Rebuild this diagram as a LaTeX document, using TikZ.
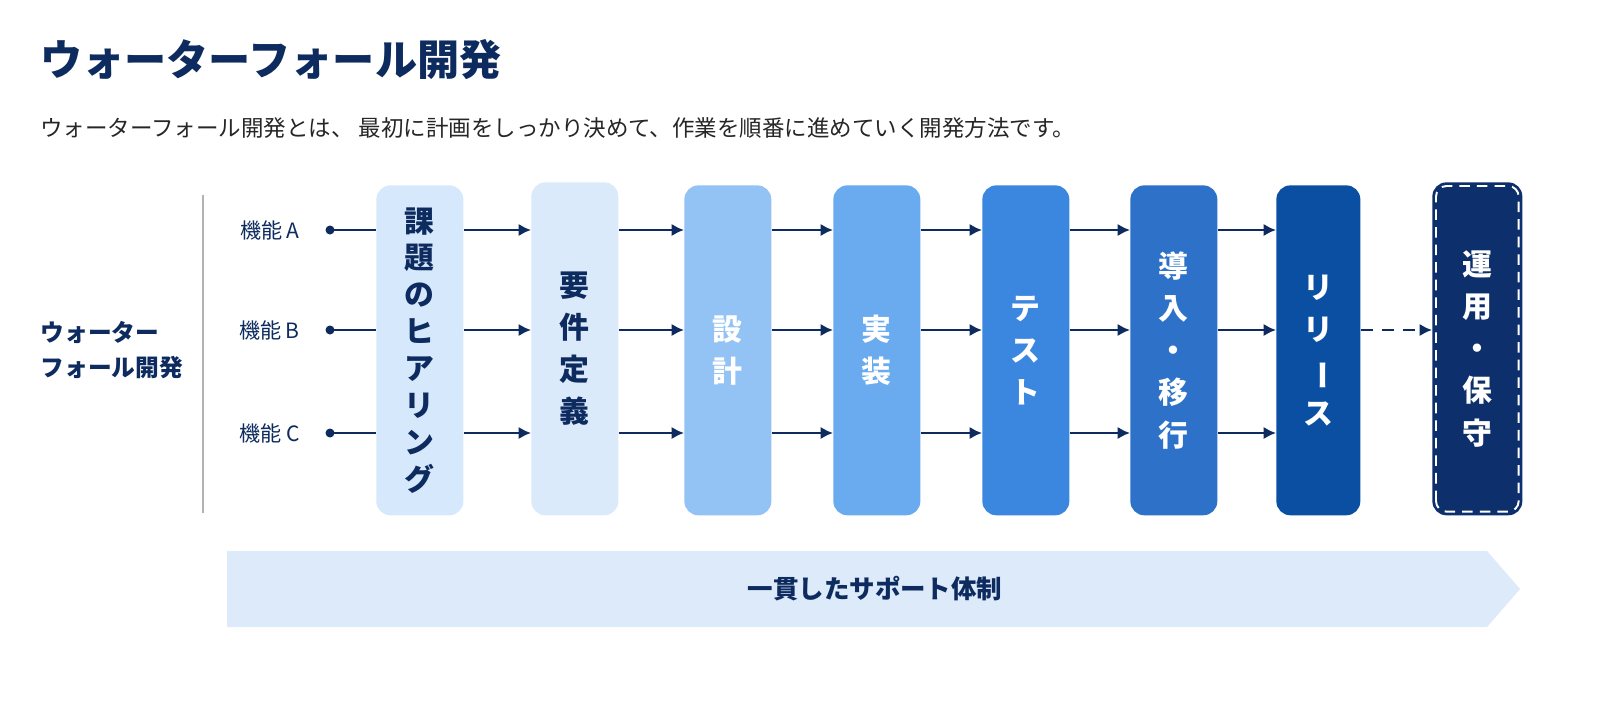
\documentclass[tikz,border=0pt]{standalone}
\usepackage{fontspec}
\setmainfont{Noto Sans CJK JP}
\usetikzlibrary{positioning, arrows.meta, shapes.arrows, calc}
\definecolor{navy}{HTML}{0D2B5E}
\definecolor{stepA}{HTML}{D6E8FB}
\definecolor{stepB}{HTML}{DBEAFB}
\definecolor{stepC}{HTML}{93C2F4}
\definecolor{stepD}{HTML}{6AAAEE}
\definecolor{stepE}{HTML}{3B87DF}
\definecolor{stepF}{HTML}{2D72C8}
\definecolor{stepG}{HTML}{0B4FA3}
\definecolor{stepH}{HTML}{0D2F6B}
\definecolor{band}{HTML}{DCEAFA}
\newcommand{\VBar}{\rotatebox[origin=c]{-90}{ー}}
\tikzset{
    phase/.style={rounded corners=8pt, minimum width=1.74cm, minimum height=6.6cm,
      anchor=north west, font=\fontsize{17}{24}\selectfont\bfseries, align=center, inner sep=0pt},
    flow/.style={navy, line width=1.3pt, -{Latex[length=7pt, width=7pt]}},
    feat/.style={font=\fontsize{12}{14}\selectfont, text=navy},
}
\begin{document}
\begin{tikzpicture}[x=0.02cm, y=-0.02cm]
    \useasboundingbox[fill=white] (0,0) rectangle (1600,711);

    \node[anchor=west, font=\fontsize{24}{28}\selectfont\bfseries, text=navy] (title) at (34,60) {ウォーターフォール開発};
    \node[anchor=west, font=\fontsize{12.8}{15}\selectfont, text=black!85] (lead) at (34,128)
      {ウォーターフォール開発とは、 最初に計画をしっかり決めて、作業を順番に進めていく開発方法です。};

    \node[font=\fontsize{13.5}{20}\selectfont\bfseries, text=navy, align=left] (side) at (112,350) {ウォーター\\フォール開発};
    \draw[black!30, line width=1.2pt] (203,195) -- (203,513);

    % phases
    \node[phase, fill=stepA, text=navy, font=\fontsize{17}{21}\selectfont\bfseries] (s1) at (376,185) {課\\題\\の\\ヒ\\ア\\リ\\ン\\グ};
    \node[phase, fill=stepB, text=navy, minimum height=6.66cm] (s2) at (531,182) {要\\件\\定\\義};
    \node[phase, fill=stepC, text=white] (s3) at (684,185) {設\\計};
    \node[phase, fill=stepD, text=white] (s4) at (833,185) {実\\装};
    \node[phase, fill=stepE, text=white] (s5) at (982,185) {テ\\ス\\ト};
    \node[phase, fill=stepF, text=white] (s6) at (1130,185) {導\\入\\・\\移\\行};
    \node[phase, fill=stepG, text=white, minimum width=1.68cm] (s7) at (1276,185) {リ\\リ\\\VBar\\ス};
    \node[phase, fill=stepH, text=white, minimum width=1.8cm, minimum height=6.66cm] (s8) at (1432,182) {運\\用\\・\\保\\守};
    \draw[white, line width=1.1pt, dash pattern=on 6pt off 4pt, rounded corners=6pt]
      ($(s8.south west)+(4,-4)$) rectangle ($(s8.north east)+(-4,4)$);

    % features
    \foreach \r/\y/\t in {rA/230/A, rB/330/B, rC/433/C} {
      \coordinate (\r) at (330,\y);
      \node[feat, anchor=east] (l\r) at (306,\y) {機能 \t};
      \fill[navy] (\r) circle (4.5);
      \draw[navy, line width=1.3pt] (\r) -- (s1.west |- \r);
      \foreach \a/\b in {s1/s2, s2/s3, s3/s4, s4/s5, s5/s6, s6/s7}
        \draw[flow] (\a.east |- \r) -- (\b.west |- \r);
    }
    \draw[flow, dash pattern=on 7pt off 5pt] (s7.east |- rB) -- (s8.west |- rB);

    % support band
    \fill[band] (227,551) -- (1487,551) -- (1520,589) -- (1487,627) -- (227,627) -- cycle;
    \node[font=\fontsize{14.5}{18}\selectfont\bfseries, text=navy] (support) at (875,589) {一貫したサポート体制};
\end{tikzpicture}
\end{document}
